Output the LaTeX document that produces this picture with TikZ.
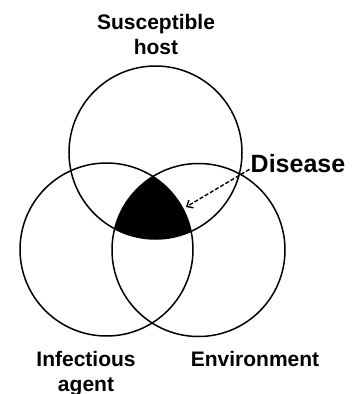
\documentclass[tikz,border=0pt]{standalone}
\usepackage{fontspec}
\setmainfont{Liberation Sans}
\usetikzlibrary{arrows.meta}
\begin{document}
\begin{tikzpicture}[x=1pt, y=-1pt,
        ring/.style = {draw, circle, line width=1.5pt, minimum size=173pt, inner sep=0pt},
        label/.style = {font=\fontsize{21}{25}\selectfont\bfseries, align=center, inner sep=0pt, anchor=base}
    ]
            \useasboundingbox (0,0) rectangle (364,394);
            \begin{scope}
                \clip (155.5,152.5) circle[radius=86.5];
                \clip (106.5,249.5) circle[radius=86.5];
                \fill (198.5,250) circle[radius=86.5];
            \end{scope}
            \node[ring] (host) at (155.5,152.5) {};
            \node[ring] (agent) at (106.5,249.5) {};
            \node[ring] (env) at (198.5,250) {};
            \node[label] (hostlabel) at (156,54) {Susceptible\\host};
            \node[label] (agentlabel) at (86,391.7) {Infectious\\agent};
            \node[label] (envlabel) at (255,366.7) {Environment};
            \node[font=\fontsize{25}{30}\selectfont\bfseries, inner sep=0pt, anchor=base west] (disease) at (250.5,172.3) {Disease};
            \coordinate (core) at (186,207);
            \draw[
                line width = 1.4pt,
                dash pattern = on 4pt off 2pt,
                -{Straight Barb[length=5pt, width=9pt, line width=1.4pt]}
            ]
            (disease.base west) ++(-1,-3) -- (core);
        \end{tikzpicture}
\end{document}
